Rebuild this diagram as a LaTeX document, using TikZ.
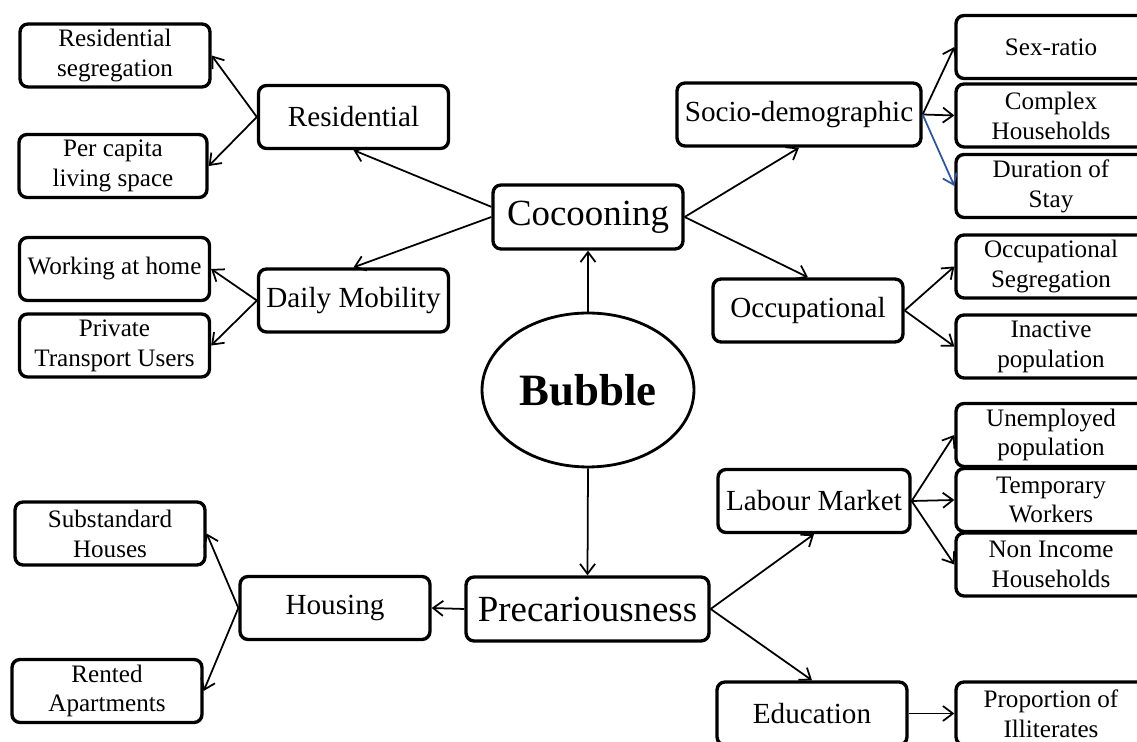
\documentclass[tikz,border=0pt]{standalone}
\usepackage{fontspec}
\setmainfont{Liberation Serif}
\usetikzlibrary{shapes.geometric,arrows.meta}
\definecolor{linkblue}{RGB}{47,85,151}
\begin{document}
\begin{tikzpicture}[x=0.02cm,y=-0.02cm,
  box/.style={draw, line width=1.9pt, rounded corners=0.16cm, align=center, inner sep=1pt},
  leaf/.style={box, minimum width=3.8cm, minimum height=1.26cm, font=\fontsize{14.3}{17}\selectfont},
  mid/.style={box, minimum width=3.8cm, minimum height=1.26cm, font=\fontsize{16.6}{19}\selectfont},
  hub/.style={box, minimum height=1.28cm, font=\fontsize{21}{25}\selectfont},
  link/.style={line width=1pt, -{Straight Barb[length=2mm,width=3mm]}}]
\useasboundingbox (0,0) rectangle (1137,742);
\clip (0,0) rectangle (1137,742);

% centre
\node[ellipse, draw, line width=1.6pt, minimum width=4.24cm, minimum height=3.08cm, inner sep=0pt,
      font=\fontsize{25.5}{30}\selectfont\bfseries] (bub) at (588,390) {Bubble};
\node[hub, minimum width=3.8cm] (coc) at (588,217) {Cocooning};
\node[hub, minimum width=4.86cm] (pre) at (587.5,609) {Precariousness};

% cocooning branch, left
\node[mid] (res) at (353.5,117) {Residential};
\node[mid] (dm) at (353.5,300.5) {Daily Mobility};
\node[leaf] (rs) at (115,55.5) {Residential\\segregation};
\node[leaf, minimum width=3.76cm] (pc) at (113,166) {Per capita\\living space};
\node[leaf] (wah) at (114.5,269) {Working at home};
\node[leaf] (ptu) at (114.5,345.5) {Private\\Transport Users};

% cocooning branch, right
\node[mid, minimum width=4.88cm] (soc) at (799,114.5) {Socio-demographic};
\node[mid] (occ) at (808,310.5) {Occupational};
\node[leaf] (sex) at (1051,47) {Sex-ratio};
\node[leaf] (chh) at (1051,115.5) {Complex\\Households};
\node[leaf] (dur) at (1051,186) {Duration of\\Stay};
\node[leaf] (ocs) at (1051,266.5) {Occupational\\Segregation};
\node[leaf] (ina) at (1051,346.5) {Inactive\\population};

% precariousness branch, right
\node[mid, minimum width=3.84cm] (lab) at (814,501) {Labour Market};
\node[mid] (edu) at (812,713.5) {Education};
\node[leaf] (une) at (1051,435) {Unemployed\\population};
\node[leaf] (tmp) at (1051,500) {Temporary\\Workers};
\node[leaf] (noi) at (1051,564.5) {Non Income\\Households};
\node[leaf] (pil) at (1051,713.5) {Proportion of\\Illiterates};

% precariousness branch, left
\node[mid] (hou) at (335,608) {Housing};
\node[leaf] (sub) at (110,533.5) {Substandard\\Houses};
\node[leaf] (ren) at (107,691) {Rented\\Apartments};

% connectors
\draw[link] (bub.north) -- (coc.south);
\draw[link] (bub.south) -- (pre.north);

\draw[link] (coc.174) -- (res.south);
\draw[link] (coc.west) -- (dm.north);
\draw[link] (coc.east) -- (soc.south);
\draw[link] (coc.east) -- (occ.north);

\draw[link] (res.west) -- (rs.east);
\draw[link] (res.west) -- (pc.east);
\draw[link] (dm.west) -- (wah.east);
\draw[link] (dm.west) -- (ptu.east);

\draw[link] (soc.east) -- (sex.west);
\draw[link] (soc.east) -- (chh.west);
\draw[link, draw=linkblue] (soc.east) -- (dur.west);
\draw[link] (occ.east) -- (ocs.west);
\draw[link] (occ.east) -- (ina.west);

\draw[link] (pre.west) -- (hou.east);
\draw[link] (hou.west) -- (sub.east);
\draw[link] (hou.west) -- (ren.east);
\draw[link] (pre.east) -- (lab.south);
\draw[link] (pre.east) -- (edu.north);
\draw[link] (lab.east) -- (une.west);
\draw[link] (lab.east) -- (tmp.west);
\draw[link] (lab.east) -- (noi.west);
\draw[link] (edu.east) -- (pil.west);
\end{tikzpicture}
\end{document}
